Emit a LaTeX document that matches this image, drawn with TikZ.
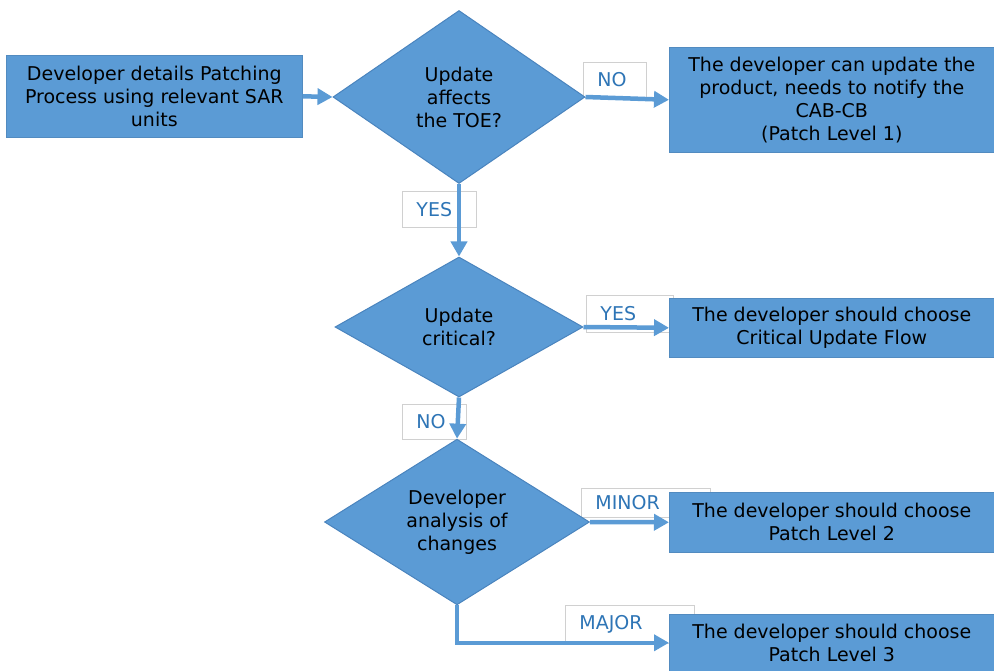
\documentclass[tikz,border=0pt]{standalone}
\usepackage{fontspec}
\setmainfont{DejaVu Sans}
\usetikzlibrary{shapes.geometric,arrows.meta}
\definecolor{boxblue}{HTML}{5B9BD5}
\definecolor{edgeblue}{HTML}{4A84BE}
\definecolor{lblblue}{HTML}{2E75B6}
\definecolor{lblgray}{HTML}{D0D0D0}
\begin{document}
\begin{tikzpicture}[x=1pt,y=-1pt,
  every node/.style={font=\fontsize{19}{23}\selectfont},
  procbox/.style={rectangle, fill=boxblue, draw=boxblue!90!black, line width=0.6pt, align=center, inner sep=0pt, anchor=north west},
  decision/.style={diamond, fill=boxblue, draw=edgeblue, line width=1pt, align=center, inner sep=0pt},
  lbl/.style={rectangle, fill=white, draw=lblgray, line width=0.8pt, text=lblblue, align=left, inner xsep=14pt, inner ysep=0pt, anchor=north west},
  conn/.style={draw=boxblue, line width=4.5pt, -{Triangle[length=15pt,width=16pt]}}]
\useasboundingbox (0,0) rectangle (994,671);
% labels (drawn first, under everything)
\node[lbl, text width=35pt, minimum height=35pt] (lno1) at (583,62) {NO};
\node[lbl, text width=46pt, minimum height=36pt] (lyes1) at (402,191) {YES};
\node[lbl, text width=59pt, minimum height=37pt] (lyes2) at (586,295) {YES};
\node[lbl, text width=36pt, minimum height=35pt] (lno2) at (402,404) {NO};
\node[lbl, text width=101pt, minimum height=29pt] (lminor) at (581,488) {MINOR};
\node[lbl, text width=101pt, minimum height=38pt] (lmajor) at (565,605) {MAJOR};
% process boxes
\node[procbox, minimum width=296pt, minimum height=82pt] (start) at (6,55)
  {Developer details Patching\\Process using relevant SAR\\units};
\node[procbox, minimum width=325pt, minimum height=105pt] (pl1) at (669,47)
  {The developer can update the\\product, needs to notify the\\CAB-CB\\(Patch Level 1)};
\node[procbox, minimum width=325pt, minimum height=59pt] (crit) at (669,298)
  {The developer should choose\\Critical Update Flow};
\node[procbox, minimum width=325pt, minimum height=60pt] (pl2) at (669,492)
  {The developer should choose\\Patch Level 2};
\node[procbox, minimum width=325pt, minimum height=57pt] (pl3) at (669,614)
  {The developer should choose\\Patch Level 3};
% decisions
\node[decision, minimum width=252pt, minimum height=173pt] (d1) at (459,97)
  {Update\\affects\\the TOE?};
\node[decision, minimum width=248pt, minimum height=140pt] (d2) at (459,327)
  {Update\\critical?};
\node[decision, minimum width=265pt, minimum height=165pt] (d3) at (457,522)
  {Developer\\analysis of\\changes};
% connectors
\draw[conn] (start.east) -- (d1.west);
\draw[conn] (d1.east) -- (pl1.west);
\draw[conn] (d1.south) -- (d2.north);
\draw[conn] (d2.east) -- (crit.west);
\draw[conn] (d2.south) -- (d3.north);
\draw[conn] (d3.east) -- (pl2.west);
\draw[conn] (d3.south) |- (pl3.west);
\end{tikzpicture}
\end{document}
